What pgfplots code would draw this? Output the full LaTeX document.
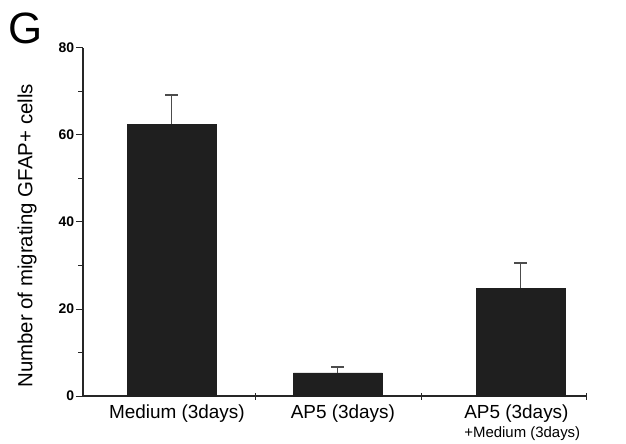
\documentclass[border=0pt]{standalone}
\usepackage{fontspec}
\setmainfont{Liberation Sans}
\usepackage{pgfplots}
\pgfplotsset{compat=1.18}
\begin{document}
\begin{tikzpicture}
\path[use as bounding box] (-83bp,-48bp) rectangle (543bp,396bp);
\begin{axis}[
    scale only axis,
    width=503bp, height=348bp,
    anchor=origin, at={(0,0)},
    xmin=0, xmax=3,
    ymin=0, ymax=80,
    axis x line*=bottom,
    axis y line*=left,
    axis line style={line width=1.1bp, color=black!85},
    every tick/.style={line width=1bp, color=black!85},
    /pgf/number format/assume math mode=true,
    ytick={0,20,...,80},
    minor ytick={10,30,50,70},
    yticklabel style={font=\fontsize{14}{16}\selectfont\bfseries, xshift=-1bp},
    y tick style={/pgfplots/major tick length=7bp, /pgfplots/minor tick length=4.5bp},
    tick align=outside,
    xtick={0.56,1.55,2.62},
    xticklabels={Medium (3days), AP5 (3days),
      {AP5 (3days)\\[-2bp]{\fontsize{15}{16}\selectfont +Medium (3days)}}},
    xticklabel style={font=\fontsize{19}{21}\selectfont, align=left, yshift=-1bp},
    x tick style={draw=none},
    extra x ticks={1.03,2.02,3},
    extra x tick labels={},
    extra x tick style={tick align=center, major tick length=7bp,
      x tick style={draw=black!85, line width=1bp}},
    ylabel={Number of migrating GFAP+ cells},
    ylabel style={font=\fontsize{20.5}{22}\selectfont, at={(axis description cs:-0.111,0.46)}, anchor=center},
    clip=false,
]
\addplot[ybar, bar width=89bp, fill=black!88, draw=black!88,
    error bars/.cd, y dir=plus, y explicit,
    error bar style={line width=1.1bp, color=black!70},
    error mark options={rotate=90, mark size=6.5bp, line width=1.3bp, color=black!70}]
  coordinates {
    (0.528,62.5) +- (0,6.7)
    (1.52,5.3)   +- (0,1.4)
    (2.61,24.8)  +- (0,5.8)
};
\end{axis}
\node[font=\fontsize{44}{45}\selectfont] at (-57bp,368bp) {G};
\end{tikzpicture}
\end{document}
